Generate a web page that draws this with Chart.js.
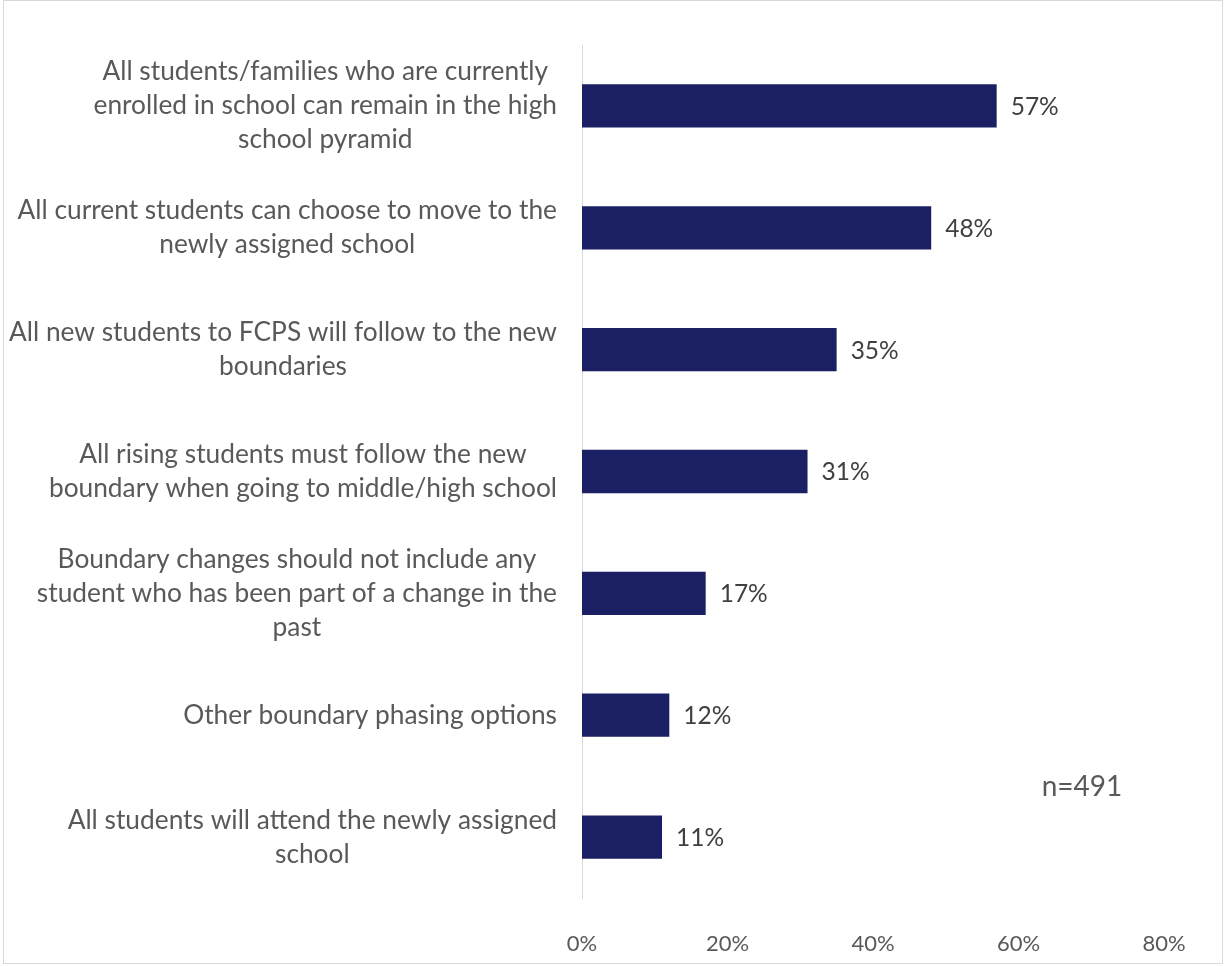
<!DOCTYPE html>
<html>
<head>
<meta charset="utf-8">
<script src="https://cdn.jsdelivr.net/npm/chart.js@4"></script>
<style>
	html, body { margin: 0; padding: 0; background: #fff; }
	#wrap { width: 1226px; height: 966px; position: relative; }
</style>
</head>
<body>
<div id="wrap"><canvas id="chart"></canvas></div>
<script>
const categories = [
	["All students/families who are currently", "enrolled in school can remain in the high", "school pyramid"],
	["All current students can choose to move to the", "newly assigned school"],
	["All new students to FCPS will follow to the new", "boundaries"],
	["All rising students must follow the new", "boundary when going to middle/high school"],
	["Boundary changes should not include any", "student who has been part of a change in the", "past"],
	["Other boundary phasing options"],
	["All students will attend the newly assigned", "school"]
];
const values = [57, 48, 35, 31, 17, 12, 11];
const xTicks = [0, 20, 40, 60, 80];
const note = "n=491";

const fontFam = "Lato, 'Open Sans', sans-serif";
const textCol = "#595959";
const barCol = "#1B1F63";

// frame, category labels, value labels, n note
const extras = {
	id: "extras",
	afterDraw: (chart) => {
		let ctx = chart.ctx;
		let x = chart.scales.x;
		let y = chart.scales.y;
		ctx.save();

		ctx.strokeStyle = "#D9D9D9";
		ctx.lineWidth = 1;
		ctx.strokeRect(3.5, 0.5, 1219, 963);

		ctx.font = "26.3px " + fontFam;
		ctx.fillStyle = textCol;
		ctx.textAlign = "center";
		ctx.textBaseline = "middle";
		let lh = 34;
		for (let i = 0; i < categories.length; i++) {
			let lines = categories[i];
			let w = Math.max(...lines.map(l => ctx.measureText(l).width));
			let cx = 557 - w / 2;
			let cy = y.getPixelForValue(i);
			for (let j = 0; j < lines.length; j++) {
				ctx.fillText(lines[j], cx, cy + (j - (lines.length - 1) / 2) * lh);
			}
		}

		ctx.font = "24.5px " + fontFam;
		ctx.textAlign = "left";
		ctx.fillStyle = "#404040";
		for (let i = 0; i < values.length; i++) {
			ctx.fillText(values[i] + "%", x.getPixelForValue(values[i]) + 14, y.getPixelForValue(i) + 1);
		}

		ctx.font = "28px " + fontFam;
		ctx.fillStyle = textCol;
		ctx.textAlign = "center";
		ctx.fillText(note, 1082, 787);
		ctx.restore();
	}
};

window.addEventListener("load", () => {
	new Chart(document.getElementById("chart"), {
		type: "bar",
		data: {
			labels: categories.map(c => c.join(" ")),
			datasets: [{
				data: values,
				backgroundColor: barCol,
				borderWidth: 0,
				barPercentage: 0.355,
				categoryPercentage: 1
			}]
		},
		options: {
			indexAxis: "y",
			responsive: true,
			maintainAspectRatio: false,
			animation: false,
			layout: { padding: { left: 582, top: 45, right: 62, bottom: 0 } },
			scales: {
				x: {
					min: 0,
					max: 80,
					afterBuildTicks: s => { s.ticks = xTicks.map(v => ({ value: v })); },
					grid: { display: false },
					border: { display: false },
					ticks: {
						color: textCol,
						font: { family: fontFam, size: 22 },
						padding: 25,
						callback: v => v + "%"
					},
					afterFit: s => { s.height = 68; }
				},
				y: {
					grid: { display: false },
					border: { display: true, color: "#D9D9D9", width: 1 },
					ticks: { display: false },
					afterFit: s => { s.width = 0; }
				}
			},
			plugins: {
				legend: { display: false },
				tooltip: { enabled: false }
			}
		},
		plugins: [extras]
	});
});
</script>
</body>
</html>
